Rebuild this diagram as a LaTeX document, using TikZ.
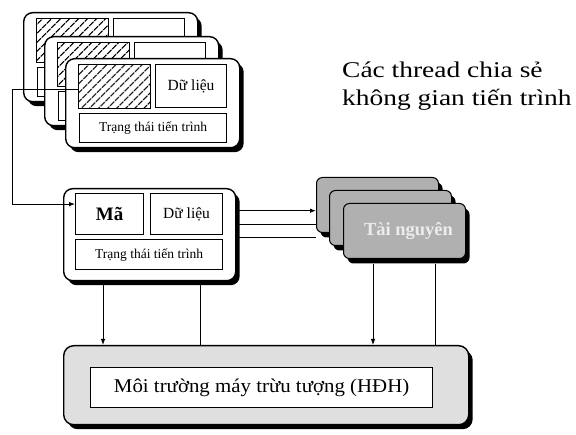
\documentclass[tikz,border=0pt]{standalone}
\usepackage{fontspec}
\setmainfont{Liberation Serif}
\newfontfamily\capfont[FakeStretch=1.22]{Liberation Serif}
\newfontfamily\osfont[FakeStretch=1.07]{Liberation Serif}
\usetikzlibrary{arrows.meta,patterns.meta,shadows}
\tikzset{
  outerbox/.style={draw, line width=1.4pt, rounded corners=9pt, fill=white, inner sep=0pt,
    anchor=north west, drop shadow={shadow xshift=4pt, shadow yshift=-4.5pt, fill=black, opacity=1}},
  inbox/.style={draw, line width=1.2pt, fill=white, inner sep=0pt, anchor=north west},
  hatchbox/.style={inbox, pattern={Lines[angle=45,distance=6.5pt,line width=1.2pt]}},
  resbox/.style={draw, line width=1pt, rounded corners=6pt, fill=gray!62, inner sep=0pt,
    anchor=north west, minimum width=122pt, minimum height=55pt,
    drop shadow={shadow xshift=4pt, shadow yshift=-5pt, fill=black, opacity=1}},
  conn/.style={line width=0.9pt},
  arr/.style={conn, -{Latex[length=6pt,width=4.5pt]}},
  datalbl/.style={font=\fontsize{15.5}{17}\selectfont},
  statelbl/.style={font=\fontsize{13.5}{15}\selectfont},
}
\newcommand\threadbox[3]{%
  \node[outerbox, minimum width=174pt, minimum height=89pt] (#1) at (#2,#3) {};
  \node[hatchbox, minimum width=72pt, minimum height=44pt] (#1code) at ([xshift=13pt,yshift=-6pt]#1.north west) {};
  \node[inbox, minimum width=71pt, minimum height=43pt] (#1data) at ([xshift=90pt,yshift=-6pt]#1.north west) {};
  \node[inbox, minimum width=147pt, minimum height=29pt] (#1state) at ([xshift=14pt,yshift=-55pt]#1.north west) {};
}
\begin{document}
\begin{tikzpicture}[x=1pt,y=-1pt]
\useasboundingbox (0,0) rectangle (576,435);

% stacked threads
\threadbox{tb}{23}{12}
\threadbox{tm}{44}{36}
\threadbox{tf}{65}{58}
\node[datalbl] at (tfdata) {Dữ liệu};
\node[statelbl] at (tfstate) {Trạng thái tiến trình};

% caption
\node[anchor=north west, align=left, font=\capfont\fontsize{22.5}{28}\selectfont, inner sep=0pt] (cap) at (342,62)
  {Các thread chia sẻ\\không gian tiến trình};

% process box
\node[outerbox, minimum width=172pt, minimum height=92pt] (proc) at (63,188) {};
\node[inbox, minimum width=68pt, minimum height=41pt, font=\fontsize{19}{21}\selectfont\bfseries] (pcode) at ([xshift=12pt,yshift=-5pt]proc.north west) {Mã};
\node[inbox, minimum width=72pt, minimum height=41pt, datalbl] (pdata) at ([xshift=87pt,yshift=-5pt]proc.north west) {Dữ liệu};
\node[inbox, minimum width=147pt, minimum height=30pt, statelbl] (pstate) at ([xshift=12pt,yshift=-51pt]proc.north west) {Trạng thái tiến trình};

% resources
\node[resbox] (res1) at (316,177) {};
\node[resbox] (res2) at (329,190) {};
\node[resbox, text=gray!15, font=\fontsize{18.5}{20}\selectfont\bfseries] (res3) at (343,203) {\hspace*{8pt}Tài nguyên};

% OS box
\node[outerbox, rounded corners=10pt, fill=gray!25, minimum width=405pt, minimum height=79pt] (os) at (63,345) {};
\node[inbox, line width=1.3pt, minimum width=342pt, minimum height=40pt, font=\osfont\fontsize{19.5}{21}\selectfont] (osin) at (90,367) {Môi trường máy trừu tượng (HĐH)};

% connector from threads to process
\draw[arr] ([yshift=-3pt]tfcode.west) -- ++(-66,0) |- ([yshift=10pt]pcode.west);

% process to resources
\path ([yshift=24pt]proc.east) coordinate (a1)
      ([yshift=10pt]proc.east) coordinate (a2)
      ([yshift=-3pt]proc.east) coordinate (a3);
\draw[arr] ([xshift=2pt]a1) -- (a1 -| res1.west);
\draw[conn] ([xshift=2pt]a2) -- (a2 -| res1.west);
\draw[conn] ([xshift=2pt]a3) -- (a3 -| res1.west);

% process to OS
\path ([xshift=40pt,yshift=-4pt]proc.south west) coordinate (d1)
      ([xshift=137pt,yshift=-4pt]proc.south west) coordinate (d2);
\draw[arr] (d1) -- (d1 |- os.north);
\draw[conn] (d2) -- (d2 |- os.north);

% resources to OS
\path ([xshift=30pt,yshift=-5pt]res3.south west) coordinate (e1)
      ([xshift=92pt,yshift=-5pt]res3.south west) coordinate (e2);
\draw[arr] (e1) -- (e1 |- os.north);
\draw[conn] (e2) -- (e2 |- os.north);
\end{tikzpicture}
\end{document}
